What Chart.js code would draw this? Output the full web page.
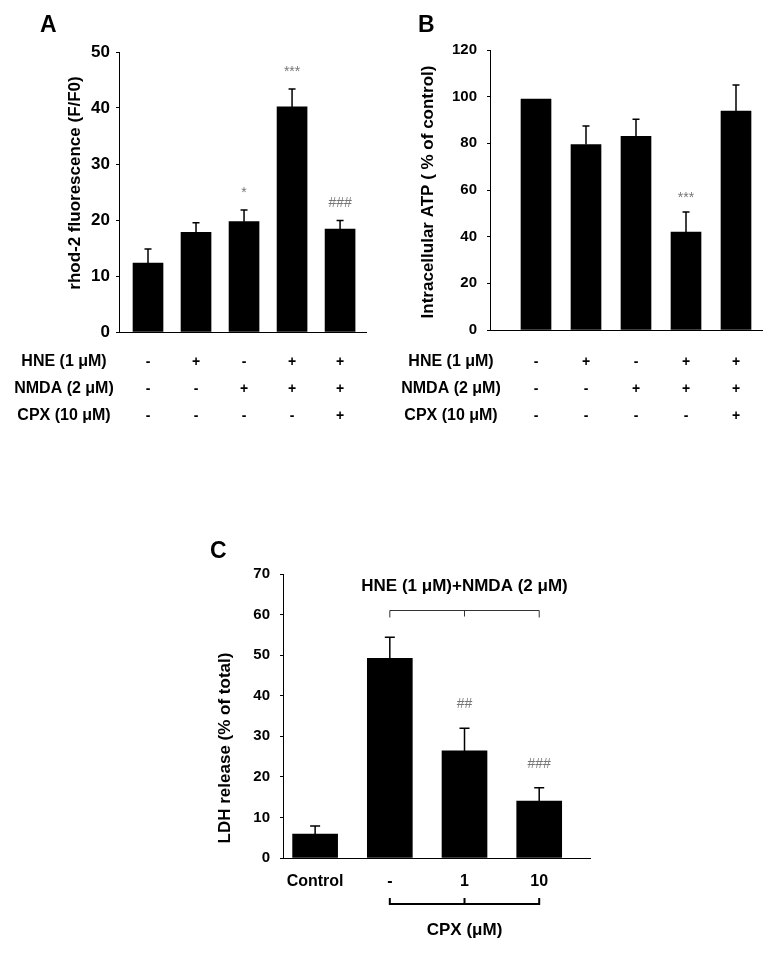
<!DOCTYPE html>
<html>
<head>
<meta charset="utf-8">
<script src="https://cdn.jsdelivr.net/npm/chart.js@4.4.1/dist/chart.umd.min.js"></script>
<style>
  html, body { margin: 0; padding: 0; background: #fff; }
  #page { position: relative; width: 777px; height: 953px; }
  #page canvas { position: absolute; }
</style>
</head>
<body>
<div id="page">
  <canvas id="chartA" width="390" height="440" style="left:0;top:0"></canvas>
  <canvas id="chartB" width="387" height="440" style="left:390px;top:0"></canvas>
  <canvas id="chartC" width="420" height="423" style="left:190px;top:530px"></canvas>
</div>
<script>
// A: rhod-2 fluorescence
const aValues = [12.3, 17.8, 19.7, 40.2, 18.4];
const aErrors = [2.5, 1.7, 2.1, 3.2, 1.5];
const aMarks = ['', '', '*', '***', '###'];
const aTicks = [0, 10, 20, 30, 40, 50];

// B: intracellular ATP
const bValues = [99, 79.5, 83, 42, 93.8];
const bErrors = [0, 7.9, 7.3, 8.6, 11.2];
const bMarks = ['', '', '', '***', ''];
const bTicks = [0, 20, 40, 60, 80, 100, 120];

// treatment table under A and B
const rowLabels = ['HNE (1 μM)', 'NMDA (2 μM)', 'CPX (10 μM)'];
const hneRow = ['-', '+', '-', '+', '+'];
const nmdaRow = ['-', '-', '+', '+', '+'];
const cpxRow = ['-', '-', '-', '-', '+'];

// C: LDH release
const cLabels = ['Control', '-', '1', '10'];
const cValues = [5.9, 49.2, 26.4, 14.0];
const cErrors = [2.0, 5.2, 5.6, 3.3];
const cMarks = ['', '', '##', '###'];
const cTicks = [0, 10, 20, 30, 40, 50, 60, 70];
const cGroupTop = 'HNE (1 μM)+NMDA (2 μM)';
const cGroupBottom = 'CPX (μM)';

const FONT = '"Liberation Sans", Arial, sans-serif';
Chart.defaults.font.family = FONT;
Chart.defaults.color = '#000';

function extras(p) {
  return {
    id: 'extras',
    afterDatasetsDraw(chart) {
      const ctx = chart.ctx;
      const ys = chart.scales.y;
      const bars = chart.getDatasetMeta(0).data;
      const area = chart.chartArea;
      ctx.save();

      // error bars + significance marks
      bars.forEach((bar, i) => {
        const err = p.errors[i];
        const yt = ys.getPixelForValue(p.values[i] + err);
        if (err) {
          ctx.strokeStyle = '#000';
          ctx.lineWidth = 1.5;
          ctx.beginPath();
          ctx.moveTo(bar.x, bar.y);
          ctx.lineTo(bar.x, yt);
          ctx.moveTo(bar.x - p.cap, yt);
          ctx.lineTo(bar.x + p.cap, yt);
          ctx.stroke();
        }
        if (p.marks[i]) {
          ctx.fillStyle = '#777';
          ctx.font = '14px ' + FONT;
          ctx.textAlign = 'center';
          ctx.textBaseline = 'middle';
          ctx.fillText(p.marks[i], bar.x, yt - p.markGap);
        }
      });

      // panel letter
      ctx.fillStyle = '#000';
      ctx.font = 'bold 23px ' + FONT;
      ctx.textAlign = 'left';
      ctx.textBaseline = 'alphabetic';
      ctx.fillText(p.letter, p.letterAt[0], p.letterAt[1]);

      // y axis title
      ctx.save();
      ctx.translate(p.titleAt[0], p.titleAt[1]);
      ctx.rotate(-Math.PI / 2);
      ctx.font = 'bold 17px ' + FONT;
      ctx.textAlign = 'center';
      ctx.textBaseline = 'middle';
      ctx.fillText(p.title, 0, 0);
      ctx.restore();

      // +/- treatment table
      if (p.rows) {
        p.rows.forEach((row, k) => {
          const ry = p.rowY[k];
          ctx.textAlign = 'center';
          ctx.textBaseline = 'middle';
          ctx.font = 'bold 16px ' + FONT;
          ctx.fillText(rowLabels[k], p.rowX, ry);
          ctx.font = 'bold 14px ' + FONT;
          row.forEach((s, i) => ctx.fillText(s, bars[i].x, ry));
        });
      }

      // brackets for panel C
      if (p.groups) {
        const x1 = bars[1].x, x2 = bars[2].x, x3 = bars[3].x;
        const yb = ys.getPixelForValue(61);
        ctx.strokeStyle = '#333';
        ctx.lineWidth = 1;
        ctx.beginPath();
        ctx.moveTo(x1, yb + 7); ctx.lineTo(x1, yb); ctx.lineTo(x3, yb); ctx.lineTo(x3, yb + 7);
        ctx.moveTo(x2, yb); ctx.lineTo(x2, yb + 6);
        ctx.stroke();
        ctx.font = 'bold 17px ' + FONT;
        ctx.textAlign = 'center';
        ctx.textBaseline = 'middle';
        ctx.fillText(cGroupTop, (x1 + x3) / 2, ys.getPixelForValue(67));

        const yl = area.bottom + 46;
        ctx.strokeStyle = '#000';
        ctx.lineWidth = 2;
        ctx.beginPath();
        ctx.moveTo(x1, yl - 6); ctx.lineTo(x1, yl); ctx.lineTo(x3, yl); ctx.lineTo(x3, yl - 6);
        ctx.moveTo(x2, yl); ctx.lineTo(x2, yl - 6);
        ctx.stroke();
        ctx.fillText(cGroupBottom, (x1 + x3) / 2, area.bottom + 72);
      }
      ctx.restore();
    }
  };
}

function makePanel(id, p) {
  return new Chart(document.getElementById(id), {
    type: 'bar',
    data: {
      datasets: [{
        data: p.values.map((v, i) => ({ x: i, y: v })),
        backgroundColor: '#000',
        barThickness: p.barW
      }]
    },
    options: {
      responsive: false,
      animation: false,
      layout: { padding: { left: 0, top: p.pad.top, right: p.pad.right, bottom: p.pad.bottom } },
      plugins: { legend: { display: false }, tooltip: { enabled: false } },
      scales: {
        x: {
          type: 'linear',
          offset: false,
          min: p.xMin,
          max: p.xMax,
          grid: { display: false, drawTicks: false, offset: false },
          border: { display: true, color: '#000', width: 1 },
          ticks: {
            display: !!p.xLabels,
            padding: 14,
            font: { size: 16, weight: 'bold' },
            callback: v => (p.xLabels ? p.xLabels[v] : '')
          },
          afterBuildTicks: s => { s.ticks = p.values.map((v, i) => ({ value: i })); },
          afterFit: s => { s.height = p.xHeight; }
        },
        y: {
          min: 0,
          max: p.ticks[p.ticks.length - 1],
          grid: { drawOnChartArea: false, drawTicks: true, tickLength: 3, color: '#000' },
          border: { color: '#000', width: 1 },
          ticks: { padding: p.tickPad, font: { size: p.tickSize, weight: 'bold' } },
          afterBuildTicks: s => { s.ticks = p.ticks.map(v => ({ value: v })); },
          afterFit: s => { s.width = p.pad.left; }
        }
      }
    },
    plugins: [extras(p)]
  });
}

makePanel('chartA', {
  values: aValues, errors: aErrors, marks: aMarks, ticks: aTicks,
  title: 'rhod-2 fluorescence (F/F0)', letter: 'A',
  pad: { left: 119, top: 52, right: 24, bottom: 108 }, xHeight: 0,
  xMin: -0.604, xMax: 4.54, barW: 30, cap: 3.5, markGap: 17,
  tickPad: 6, tickSize: 17,
  titleAt: [75, 183], letterAt: [40, 32],
  rows: [hneRow, nmdaRow, cpxRow], rowX: 64, rowY: [362, 389, 416]
});

makePanel('chartB', {
  values: bValues, errors: bErrors, marks: bMarks, ticks: bTicks,
  title: 'Intracellular ATP ( % of control)', letter: 'B',
  pad: { left: 100, top: 50, right: 15, bottom: 110 }, xHeight: 0,
  xMin: -0.92, xMax: 4.52, barW: 30, cap: 3.5, markGap: 14,
  tickPad: 10, tickSize: 15,
  titleAt: [38, 192], letterAt: [28, 32],
  rows: [hneRow, nmdaRow, cpxRow], rowX: 61, rowY: [362, 389, 416]
});

makePanel('chartC', {
  values: cValues, errors: cErrors, marks: cMarks, ticks: cTicks,
  title: 'LDH release (% of total)', letter: 'C', xLabels: cLabels,
  pad: { left: 93, top: 44, right: 20, bottom: 55 }, xHeight: 40,
  xMin: -0.43, xMax: 3.68, barW: 45, cap: 5, markGap: 24,
  tickPad: 10, tickSize: 15,
  titleAt: [35, 218], letterAt: [20, 28], groups: true
});
</script>
</body>
</html>
